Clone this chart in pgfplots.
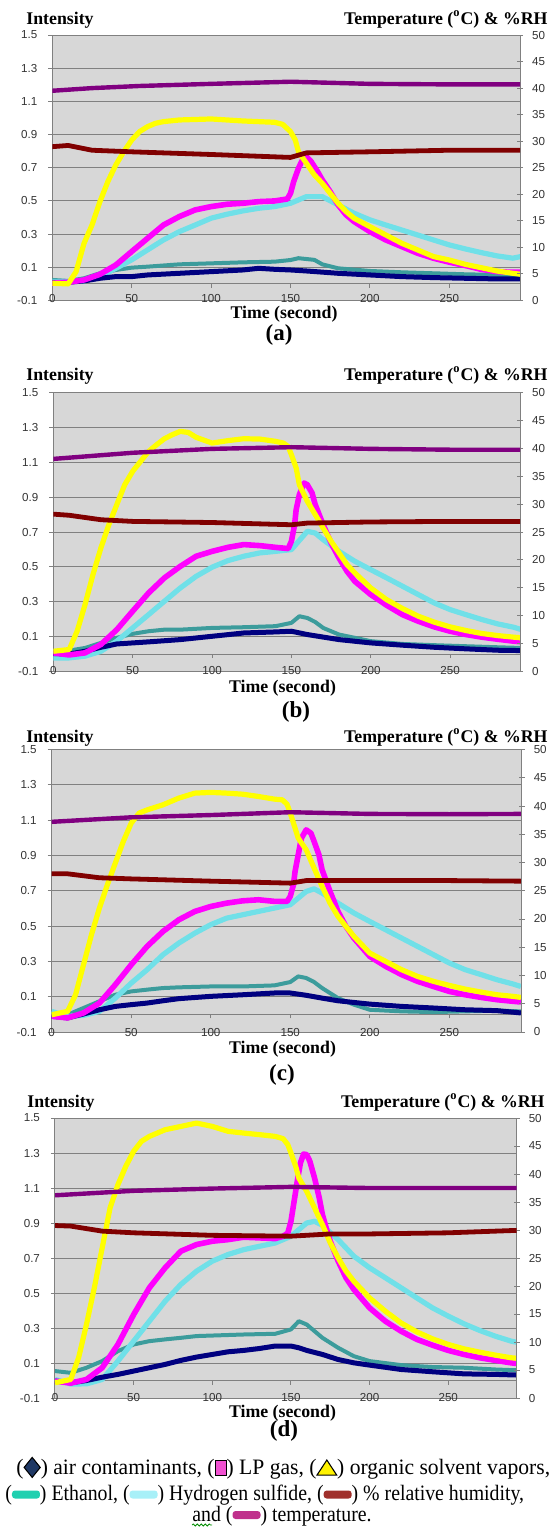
\documentclass[border=0pt]{standalone}
\usepackage{pgfplots}
\pgfplotsset{compat=1.18}
\usepackage{graphicx}
\usepackage{fontspec}
\setmainfont{Liberation Serif}
\newfontfamily\arialfont{Liberation Sans}
\newfontfamily\legfont[FakeStretch=0.9]{Liberation Serif}
\usetikzlibrary{decorations.pathmorphing}

\definecolor{plotbg}{HTML}{D7D7D7}
\definecolor{gridc}{HTML}{808080}
\definecolor{cAir}{HTML}{000080}
\definecolor{cLpg}{HTML}{FF00FF}
\definecolor{cOrg}{HTML}{FFFF00}
\definecolor{cEth}{HTML}{3C9C9C}
\definecolor{cHs}{HTML}{70E0E8}
\definecolor{cRh}{HTML}{800000}
\definecolor{cTemp}{HTML}{800080}
% legend swatches
\definecolor{kAir}{HTML}{1F3864}
\definecolor{kLpg}{HTML}{F050D0}
\definecolor{kEth}{HTML}{20D0B0}
\definecolor{kHs}{HTML}{A8F0F8}
\definecolor{kRh}{HTML}{A0302C}
\definecolor{kTemp}{HTML}{C0308C}

\newlength{\px}\setlength{\px}{0.5pt}
\newcommand\tfont{\bfseries\fontsize{8.9}{10}\selectfont}
\newcommand\lfont{\bfseries\fontsize{11.5}{13}\selectfont}
\newcommand\kdia{\tikz[baseline=0pt]\draw[fill=kAir, line width=0.5pt] (0,3.3pt)--(3.7pt,8.3pt)--(7.4pt,3.3pt)--(3.7pt,-1.7pt)--cycle;}
\newcommand\krect{\tikz[baseline=0pt]\draw[fill=kLpg, line width=0.5pt] (0,-0.5pt) rectangle (5pt,7pt);}
\newcommand\ktri{\tikz[baseline=0pt]\draw[fill=yellow, line width=0.5pt] (0,-0.5pt)--(4.5pt,7pt)--(9pt,-0.5pt)--cycle;}
\newcommand\kbar[1]{\tikz[baseline=0pt]\fill[#1, rounded corners=1.5pt] (0,1pt) rectangle (14pt,5pt);}

\pgfplotsset{
  lax/.style={
    scale only axis, anchor=north west,
    xmin=0, ymin=-0.1, ymax=1.5,
    axis y line*=left, axis x line*=middle,
    hide obscured x ticks=false,
    axis line style={gridc, line width=0.5pt},
    axis background/.style={fill=plotbg},
    xtick={0,50,100,150,200,250},
    ytick={-0.1,0.1,0.3,0.5,0.7,0.9,1.1,1.3,1.5},
    ymajorgrids, grid style={gridc, line width=0.5pt},
    tick style={gridc, line width=0.5pt},
    major tick length=2pt, tick align=outside,
    ticklabel style={font=\arialfont\fontsize{5.8}{7}\selectfont, text=black!80},
    /pgf/number format/assume math mode=true,
    yticklabel style={/pgf/number format/fixed, /pgf/number format/fixed zerofill, /pgf/number format/precision=1, xshift=-2pt},
    xticklabel style={anchor=center},
  },
  rax/.style={
    scale only axis, anchor=north west,
    xmin=0, ymin=0, ymax=50,
    axis y line*=right, axis x line=none,
    axis line style={gridc, line width=0.5pt},
    ytick={0,5,...,50},
    tick style={gridc, line width=0.5pt},
    major tick length=3pt, tick align=center,
    ticklabel style={font=\arialfont\fontsize{5.8}{7}\selectfont, text=black!80},
    /pgf/number format/assume math mode=true,
    yticklabel style={xshift=1pt},
  },
  sAir/.style={cAir, mark=none, line width=2.5pt, line join=round},
  sLpg/.style={cLpg, mark=none, line width=2.8pt, line join=round},
  sOrg/.style={cOrg, mark=none, line width=2.6pt, line join=round},
  sEth/.style={cEth, mark=none, line width=2pt, line join=round},
  sHs/.style={cHs, mark=none, line width=2.6pt, line join=round},
  sRh/.style={cRh, mark=none, line width=2.4pt, line join=round},
  sTemp/.style={cTemp, mark=none, line width=2.2pt, line join=round},
}

\begin{document}
\begin{tikzpicture}
\useasboundingbox (0,0) rectangle (552\px,-1528\px);

% ---------------- (a)
\begin{axis}[lax, at={(52.3\px,-35\px)}, width=467.7\px, height=265.5\px, xmax=294.5, xticklabel style={yshift=-5.2pt}]
\addplot[sEth] coordinates {(0,0.024)(10,0.018)(20,0.034)(30,0.064)(40,0.084)(50,0.098)(60,0.104)(80,0.118)(100,0.124)(120,0.13)(140,0.134)(150,0.144)(155,0.155)(165,0.145)(170,0.118)(180,0.094)(200,0.078)(220,0.07)(240,0.064)(260,0.058)(280,0.054)(295,0.05)};
\addplot[sHs] coordinates {(0,0.014)(10,0.014)(20,0.018)(30,0.044)(40,0.094)(50,0.145)(60,0.205)(70,0.265)(80,0.315)(90,0.355)(100,0.396)(110,0.42)(120,0.44)(130,0.456)(140,0.466)(150,0.486)(160,0.526)(170,0.526)(180,0.476)(190,0.426)(200,0.386)(210,0.355)(220,0.325)(230,0.295)(240,0.265)(250,0.235)(260,0.211)(270,0.189)(280,0.169)(290,0.155)(295,0.165)};
\addplot[sAir] coordinates {(0,0.01)(10,0.01)(20,0.018)(30,0.034)(40,0.044)(50,0.044)(60,0.054)(80,0.064)(100,0.074)(120,0.084)(130,0.094)(140,0.088)(150,0.084)(160,0.078)(180,0.064)(200,0.054)(220,0.044)(240,0.038)(260,0.034)(280,0.03)(295,0.03)};
\addplot[sLpg] coordinates {(0,0.004)(10,0.01)(20,0.024)(30,0.058)(40,0.114)(50,0.195)(60,0.275)(70,0.355)(80,0.406)(90,0.446)(100,0.466)(110,0.48)(120,0.486)(130,0.496)(140,0.5)(148,0.512)(150,0.546)(152,0.617)(155,0.697)(158,0.757)(160,0.767)(163,0.737)(167,0.677)(170,0.627)(175,0.556)(180,0.476)(185,0.416)(190,0.376)(200,0.315)(210,0.265)(220,0.225)(230,0.185)(240,0.155)(250,0.131)(260,0.111)(270,0.088)(280,0.074)(290,0.07)(295,0.07)};
\addplot[sOrg] coordinates {(0,0.004)(10,0.0)(15,0.074)(20,0.245)(25,0.355)(30,0.496)(35,0.617)(40,0.717)(45,0.797)(50,0.867)(55,0.918)(60,0.948)(65,0.968)(70,0.978)(80,0.988)(100,0.994)(120,0.982)(140,0.974)(145,0.962)(150,0.918)(153,0.867)(155,0.797)(160,0.727)(165,0.657)(170,0.606)(175,0.546)(180,0.486)(185,0.436)(190,0.396)(200,0.345)(210,0.295)(220,0.245)(230,0.205)(240,0.165)(250,0.144)(260,0.118)(270,0.098)(280,0.078)(290,0.064)(295,0.058)};
\end{axis}
\begin{axis}[rax, at={(52.3\px,-35\px)}, width=467.7\px, height=265.5\px, xmax=294.5]
\addplot[sRh] coordinates {(0,28.97)(10,29.2)(25,28.3)(50,28.0)(100,27.5)(145,27.0)(150,26.95)(160,27.8)(200,28.0)(250,28.3)(295,28.3)};
\addplot[sTemp] coordinates {(0,39.5)(25,40.0)(55,40.4)(100,40.8)(150,41.2)(200,40.8)(250,40.7)(295,40.7)};
\end{axis}
\node[anchor=base west, inner sep=0] at (26\px,-24\px) {\tfont Intensity};
\node[anchor=base east, inner sep=0] at (548\px,-24\px) {\tfont Temperature (\textsuperscript{o}C) \& \%RH};
\node[anchor=base, inner sep=0] at (284\px,-318\px) {\tfont Time (second)};
\node[anchor=base, inner sep=0] at (279\px,-340\px) {\lfont (a)};

% ---------------- (b)
\begin{axis}[lax, at={(53.3\px,-392.5\px)}, width=466.7\px, height=279\px, xmax=294, xticklabel style={yshift=-6.3pt}]
\addplot[sEth] coordinates {(0,0.016)(10,0.02)(20,0.035)(30,0.064)(40,0.093)(50,0.116)(60,0.131)(70,0.14)(80,0.14)(100,0.15)(120,0.154)(140,0.16)(150,0.179)(155,0.217)(160,0.207)(165,0.184)(170,0.15)(180,0.112)(200,0.074)(220,0.058)(240,0.051)(260,0.045)(280,0.039)(295,0.035)};
\addplot[sHs] coordinates {(0,-0.022)(10,-0.022)(20,-0.012)(30,0.016)(40,0.074)(50,0.15)(60,0.226)(70,0.303)(80,0.379)(90,0.446)(100,0.498)(110,0.536)(120,0.561)(130,0.58)(140,0.589)(150,0.599)(160,0.704)(165,0.694)(170,0.656)(180,0.589)(190,0.532)(200,0.484)(210,0.437)(220,0.389)(230,0.341)(240,0.293)(250,0.255)(260,0.226)(270,0.198)(280,0.173)(290,0.154)(295,0.14)};
\addplot[sAir] coordinates {(0,0.003)(10,0.0)(20,0.016)(30,0.039)(40,0.058)(50,0.064)(60,0.07)(80,0.083)(100,0.102)(120,0.121)(140,0.127)(150,0.131)(160,0.112)(180,0.083)(200,0.064)(220,0.051)(240,0.039)(260,0.03)(280,0.022)(295,0.02)};
\addplot[sLpg] coordinates {(0,0.007)(10,-0.005)(20,0.007)(30,0.055)(40,0.14)(50,0.246)(60,0.35)(70,0.437)(80,0.503)(90,0.561)(100,0.589)(110,0.612)(120,0.628)(130,0.622)(140,0.612)(148,0.605)(150,0.647)(152,0.742)(153,0.828)(155,0.914)(158,0.981)(160,0.971)(163,0.924)(165,0.857)(170,0.742)(175,0.637)(180,0.551)(185,0.475)(190,0.417)(200,0.341)(210,0.28)(220,0.226)(230,0.188)(240,0.156)(250,0.131)(260,0.112)(270,0.097)(280,0.085)(290,0.074)(295,0.07)};
\addplot[sOrg] coordinates {(0,0.016)(10,0.026)(15,0.131)(20,0.284)(25,0.456)(30,0.609)(35,0.742)(40,0.857)(45,0.971)(50,1.048)(55,1.105)(60,1.162)(65,1.2)(70,1.235)(75,1.258)(80,1.277)(85,1.271)(90,1.243)(100,1.21)(110,1.224)(120,1.235)(130,1.233)(140,1.22)(145,1.21)(148,1.19)(150,1.143)(153,1.067)(155,0.971)(158,0.914)(160,0.876)(165,0.8)(170,0.723)(175,0.647)(180,0.58)(185,0.513)(190,0.465)(200,0.379)(210,0.312)(220,0.261)(230,0.217)(240,0.183)(250,0.156)(260,0.135)(270,0.118)(280,0.106)(290,0.097)(295,0.093)};
\end{axis}
\begin{axis}[rax, at={(53.3\px,-392.5\px)}, width=466.7\px, height=279\px, xmax=294]
\addplot[sRh] coordinates {(0,28.2)(10,28.0)(30,27.2)(50,26.9)(100,26.7)(150,26.3)(160,26.6)(200,26.8)(250,26.9)(295,26.9)};
\addplot[sTemp] coordinates {(0,38.1)(50,39.2)(100,39.9)(150,40.2)(200,39.9)(250,39.75)(295,39.75)};
\end{axis}
\node[anchor=base west, inner sep=0] at (26\px,-380\px) {\tfont Intensity};
\node[anchor=base east, inner sep=0] at (548\px,-380\px) {\tfont Temperature (\textsuperscript{o}C) \& \%RH};
\node[anchor=base, inner sep=0] at (282.5\px,-692\px) {\tfont Time (second)};
\node[anchor=base, inner sep=0] at (296\px,-717\px) {\lfont (b)};

% ---------------- (c)
\begin{axis}[lax, at={(51.7\px,-749.5\px)}, width=470\px, height=282.5\px, xmax=295.5, xticklabel style={yshift=-7.3pt}]
\addplot[sEth] coordinates {(0,0.008)(10,-0.002)(20,0.036)(30,0.074)(40,0.111)(50,0.13)(60,0.14)(70,0.149)(80,0.153)(100,0.158)(120,0.158)(140,0.164)(150,0.183)(155,0.215)(160,0.206)(165,0.183)(170,0.149)(180,0.092)(190,0.055)(200,0.026)(220,0.017)(240,0.013)(260,0.017)(280,0.021)(295,0.017)};
\addplot[sHs] coordinates {(0,0.017)(10,-0.011)(20,-0.006)(30,0.017)(40,0.092)(50,0.177)(60,0.253)(70,0.338)(80,0.404)(90,0.46)(100,0.508)(110,0.545)(120,0.564)(130,0.583)(140,0.602)(150,0.621)(160,0.696)(165,0.711)(170,0.687)(180,0.63)(190,0.574)(200,0.526)(210,0.479)(220,0.432)(230,0.385)(240,0.338)(250,0.291)(260,0.253)(270,0.225)(280,0.196)(290,0.172)(295,0.158)};
\addplot[sAir] coordinates {(0,-0.011)(10,-0.02)(20,0.002)(30,0.026)(40,0.045)(50,0.055)(60,0.064)(70,0.077)(80,0.089)(100,0.102)(120,0.111)(140,0.121)(150,0.121)(160,0.108)(170,0.092)(180,0.077)(200,0.058)(220,0.045)(240,0.036)(260,0.026)(280,0.021)(295,0.008)};
\addplot[sLpg] coordinates {(0,-0.011)(10,-0.02)(20,0.008)(30,0.064)(40,0.168)(50,0.281)(60,0.385)(70,0.47)(80,0.536)(90,0.583)(100,0.611)(110,0.63)(120,0.643)(130,0.649)(140,0.64)(148,0.64)(150,0.668)(152,0.734)(153,0.809)(155,0.904)(157,0.998)(160,1.045)(163,1.026)(165,0.979)(168,0.904)(170,0.819)(175,0.696)(180,0.583)(185,0.498)(190,0.432)(200,0.328)(210,0.272)(220,0.225)(230,0.187)(240,0.158)(250,0.13)(260,0.111)(270,0.096)(280,0.083)(290,0.074)(295,0.07)};
\addplot[sOrg] coordinates {(0,-0.002)(10,0.017)(15,0.111)(20,0.281)(25,0.451)(30,0.602)(35,0.734)(40,0.857)(45,0.979)(50,1.083)(55,1.14)(60,1.158)(70,1.187)(80,1.225)(90,1.253)(100,1.257)(110,1.253)(120,1.247)(130,1.234)(140,1.219)(145,1.215)(148,1.19)(150,1.14)(153,1.055)(155,0.998)(160,0.932)(165,0.828)(170,0.725)(175,0.63)(180,0.555)(185,0.498)(190,0.442)(200,0.347)(210,0.3)(220,0.253)(230,0.215)(240,0.187)(250,0.164)(260,0.143)(270,0.126)(280,0.111)(290,0.102)(295,0.096)};
\end{axis}
\begin{axis}[rax, at={(51.7\px,-749.5\px)}, width=470\px, height=282.5\px, xmax=295.5]
\addplot[sRh] coordinates {(0,28.0)(10,28.0)(30,27.3)(50,27.1)(100,26.7)(150,26.35)(160,26.8)(200,26.8)(250,26.8)(295,26.7)};
\addplot[sTemp] coordinates {(0,37.2)(50,38.0)(100,38.4)(150,38.9)(200,38.6)(250,38.55)(295,38.6)};
\end{axis}
\node[anchor=base west, inner sep=0] at (26\px,-742\px) {\tfont Intensity};
\node[anchor=base east, inner sep=0] at (548\px,-742\px) {\tfont Temperature (\textsuperscript{o}C) \& \%RH};
\node[anchor=base, inner sep=0] at (282.5\px,-1053\px) {\tfont Time (second)};
\node[anchor=base, inner sep=0] at (282\px,-1080\px) {\lfont (c)};

% ---------------- (d)
\begin{axis}[lax, at={(55\px,-1118\px)}, width=461.7\px, height=280\px, xmax=293.5, xticklabel style={yshift=-6.5pt}]
\addplot[sEth] coordinates {(0,0.054)(10,0.044)(20,0.073)(30,0.111)(40,0.168)(50,0.206)(60,0.225)(70,0.235)(80,0.244)(90,0.254)(100,0.257)(120,0.263)(140,0.267)(150,0.292)(155,0.339)(160,0.32)(165,0.282)(170,0.244)(180,0.187)(190,0.139)(200,0.111)(220,0.088)(240,0.077)(260,0.073)(280,0.063)(295,0.058)};
\addplot[sHs] coordinates {(0,0.006)(10,-0.02)(20,-0.019)(30,0.006)(40,0.111)(50,0.225)(60,0.339)(70,0.453)(80,0.549)(90,0.625)(100,0.682)(110,0.72)(120,0.748)(130,0.767)(140,0.786)(150,0.824)(160,0.9)(165,0.91)(170,0.887)(180,0.805)(190,0.71)(200,0.644)(210,0.587)(220,0.53)(230,0.472)(240,0.415)(250,0.368)(260,0.324)(270,0.286)(280,0.253)(290,0.225)(295,0.216)};
\addplot[sAir] coordinates {(0,-0.003)(10,-0.013)(20,0.0)(30,0.019)(40,0.035)(50,0.054)(60,0.073)(70,0.092)(80,0.115)(90,0.134)(100,0.149)(110,0.164)(120,0.172)(130,0.183)(140,0.197)(150,0.197)(155,0.187)(160,0.172)(170,0.149)(180,0.12)(190,0.101)(200,0.088)(220,0.063)(240,0.05)(260,0.038)(280,0.035)(295,0.031)};
\addplot[sLpg] coordinates {(0,-0.003)(10,-0.015)(20,0.006)(30,0.073)(40,0.206)(50,0.377)(60,0.53)(70,0.644)(80,0.739)(90,0.777)(100,0.796)(110,0.805)(120,0.819)(130,0.815)(140,0.811)(145,0.824)(148,0.843)(150,0.91)(152,1.024)(154,1.138)(156,1.243)(158,1.294)(160,1.291)(162,1.253)(165,1.157)(168,1.043)(170,0.948)(173,0.853)(175,0.796)(180,0.682)(185,0.587)(190,0.52)(200,0.415)(210,0.339)(220,0.282)(230,0.235)(240,0.202)(250,0.172)(260,0.149)(270,0.13)(280,0.115)(290,0.101)(295,0.096)};
\addplot[sOrg] coordinates {(0,-0.013)(10,0.006)(15,0.13)(20,0.32)(25,0.53)(30,0.758)(35,0.986)(40,1.119)(45,1.224)(50,1.31)(55,1.367)(60,1.395)(70,1.433)(80,1.452)(90,1.471)(100,1.452)(110,1.424)(120,1.414)(130,1.405)(140,1.395)(145,1.382)(148,1.348)(150,1.3)(153,1.224)(155,1.157)(160,1.081)(165,0.986)(170,0.891)(175,0.786)(180,0.701)(185,0.625)(190,0.567)(200,0.472)(210,0.396)(220,0.329)(230,0.278)(240,0.238)(250,0.206)(260,0.181)(270,0.162)(280,0.145)(290,0.13)(295,0.126)};
\end{axis}
\begin{axis}[rax, at={(55\px,-1118\px)}, width=461.7\px, height=280\px, xmax=293.5]
\addplot[sRh] coordinates {(0,30.8)(10,30.7)(30,29.8)(50,29.5)(100,29.05)(150,28.9)(175,29.3)(200,29.3)(250,29.5)(290,29.9)(295,29.9)};
\addplot[sTemp] coordinates {(0,36.2)(50,37.0)(100,37.4)(150,37.7)(200,37.5)(250,37.5)(295,37.5)};
\end{axis}
\node[anchor=base west, inner sep=0] at (27\px,-1107\px) {\tfont Intensity};
\node[anchor=base east, inner sep=0] at (545\px,-1107\px) {\tfont Temperature (\textsuperscript{o}C) \& \%RH};
\node[anchor=base, inner sep=0] at (282.5\px,-1417\px) {\tfont Time (second)};
\node[anchor=base, inner sep=0] at (284\px,-1436\px) {\lfont (d)};

% ---------------- legend text
\node[anchor=base west, inner sep=0, font=\legfont\fontsize{11}{13}\selectfont] at (16\px,-1474\px) {\scalebox{1.09}[1]{(\kdia) air contaminants, (\krect) LP gas, (\ktri) organic solvent vapors,}};
\node[anchor=base west, inner sep=0, font=\legfont\fontsize{11}{13}\selectfont] at (5\px,-1500.5\px) {(\kbar{kEth}) Ethanol, (\kbar{kHs}) Hydrogen sulfide, (\kbar{kRh}) \% relative humidity,};
\node[anchor=base west, inner sep=0, font=\legfont\fontsize{11}{13}\selectfont] at (192\px,-1521\px) {and (\kbar{kTemp}) temperature.};
\draw[green!55!black, line width=0.4pt, decorate, decoration={snake, amplitude=0.5pt, segment length=2pt}] (192\px,-1525\px) -- (212\px,-1525\px);
\end{tikzpicture}
\end{document}
